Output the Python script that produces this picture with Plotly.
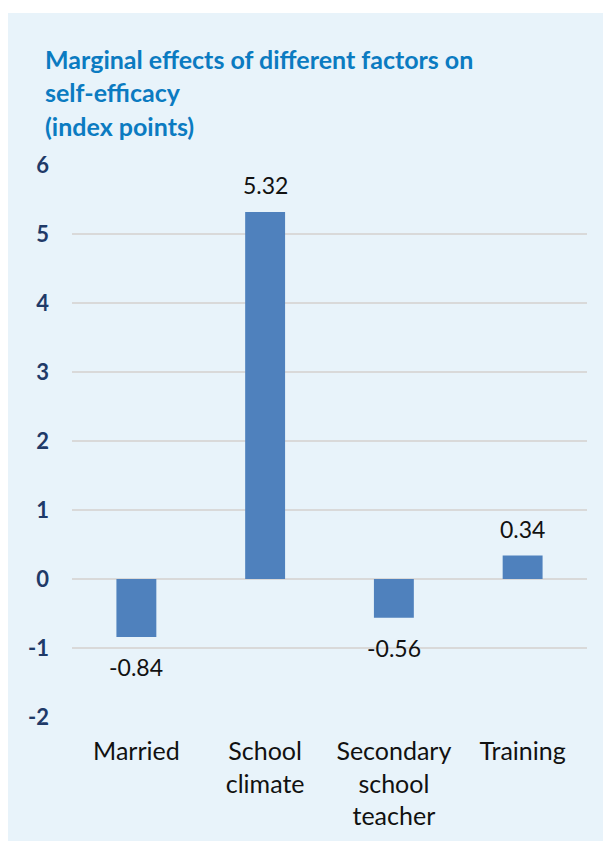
import plotly.graph_objects as go

categories = ["Married", "School<br>climate", "Secondary<br>school<br>teacher", "Training"]
values = [-0.84, 5.32, -0.56, 0.34]
value_labels = ["-0.84", "5.32", "-0.56", "0.34"]
y_ticks = [-2, -1, 0, 1, 2, 3, 4, 5, 6]
title_lines = ["Marginal effects of different factors on", "self-efficacy", "(index points)"]

# the page body adds an 8px margin, so the figure is 8px smaller than the window
W, H = 603, 833
L, R, T, B = 64, 579, 157, 709
pw, ph = R - L, B - T

def px_x(x):
    return (x - L) / pw

def px_y(y):
    return (B - y) / ph

fig = go.Figure()
fig.add_trace(go.Bar(
    x=categories, y=values, width=0.31,
    marker=dict(color="#4f81bd", line=dict(width=0)),
    hoverinfo="skip",
))

annotations = []
for c, v, t in zip(categories, values, value_labels):
    annotations.append(dict(
        x=c, y=v, xref="x", yref="y", text=t, showarrow=False,
        yanchor="middle", yshift=27 if v >= 0 else -30,
        font=dict(family="Lato", size=23, color="#111111"),
    ))

title_y = [50.5, 84.5, 118]
for line, yy in zip(title_lines, title_y):
    annotations.append(dict(
        x=px_x(35), y=px_y(yy), xref="paper", yref="paper", text=line,
        showarrow=False, xanchor="left", yanchor="middle",
        font=dict(family="Lato", size=25, color="#0b7bc1", weight="bold"),
    ))

fig.update_layout(
    width=W, height=H,
    margin=dict(l=L, r=W - R, t=T, b=H - B, pad=0),
    paper_bgcolor="white", plot_bgcolor="rgba(0,0,0,0)",
    showlegend=False,
    annotations=annotations,
    shapes=[dict(
        type="rect", xref="paper", yref="paper", layer="below",
        x0=px_x(0), x1=px_x(W + 5), y0=px_y(H + 5), y1=px_y(5),
        fillcolor="#e8f3fa", line=dict(width=0),
    )],
)
fig.update_yaxes(
    range=[-2, 6], tickvals=y_ticks, ticktext=[str(v) for v in y_ticks],
    showgrid=True, gridcolor="#d9d9d9", gridwidth=1.5,
    zeroline=True, zerolinecolor="#d9d9d9", zerolinewidth=1.5,
    showline=False, ticks="", ticklabelstandoff=22,
    tickfont=dict(family="Lato", size=22, color="#1f3a68", weight="bold"),
)
fig.update_xaxes(
    showgrid=False, showline=False, ticks="", ticklabelstandoff=17,
    tickfont=dict(family="Lato", size=25, color="#111111"),
)

fig.write_html("out.html")
